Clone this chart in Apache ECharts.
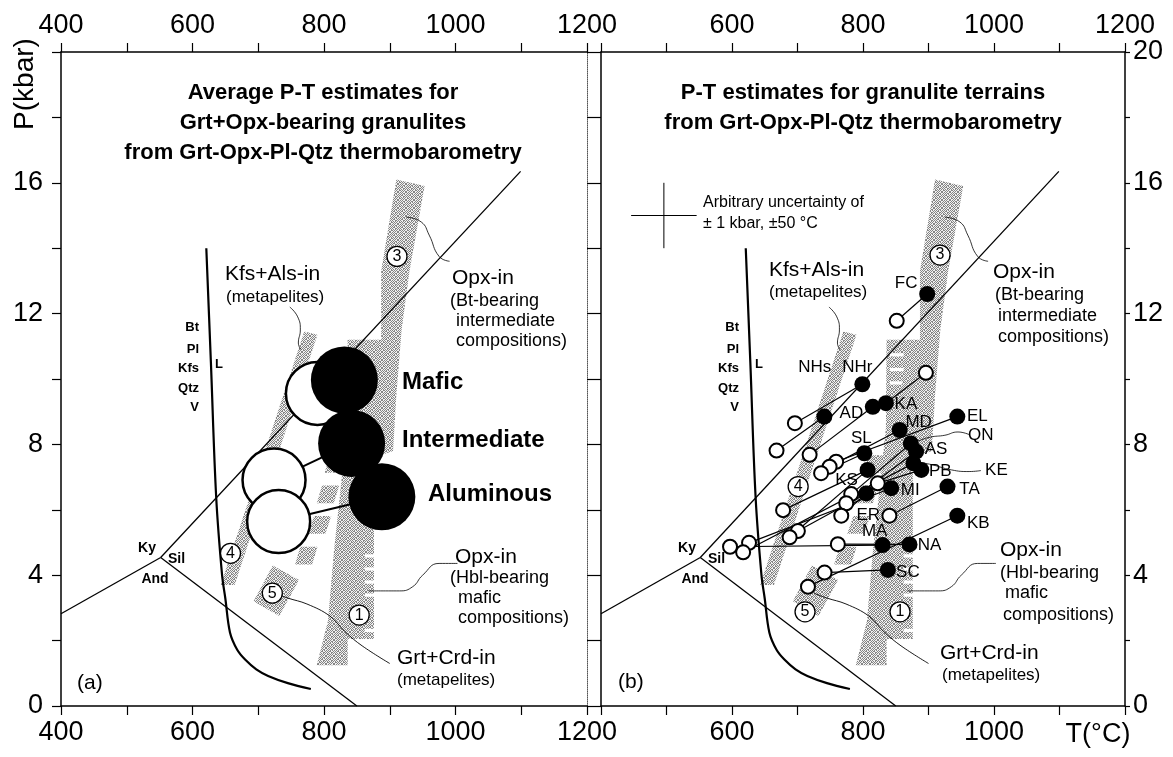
<!DOCTYPE html>
<html>
<head>
<meta charset="utf-8">
<script src="https://cdn.jsdelivr.net/npm/echarts@6/dist/echarts.min.js"></script>
<style>
  html, body { margin: 0; padding: 0; background: #fff; }
  #chart { width: 1173px; height: 757px; }
</style>
</head>
<body>
<div id="chart"></div>
<script>
// ---------------- axis ranges ----------------
const tempRange = [400, 1200];
const presRange = [0, 20];

// ---------------- phase boundaries (T in °C, P in kbar) ----------------
const kyaniteSillimanite = [[551.6, 4.54], [1099, 16.35]];
const kyaniteAndalusite = [[400, 2.82], [551.6, 4.54]];
const sillimaniteAndalusite = [[551.6, 4.54], [850, 0]];
const wetSolidus = [[621, 14.0], [628, 10.5], [636, 6.4], [645, 4.0], [650, 3.28], [657, 2.25],
                    [668, 1.72], [680, 1.42], [697, 1.12], [715, 0.92], [745, 0.7], [780, 0.52]];
const grtCrdIn = [[725, 3.45], [745, 3.3], [774, 3.12], [809, 2.75], [832, 2.27], [858, 1.84], [900, 1.3]];

// ---------------- stippled reaction bands ----------------
const bandOpxIn = [[910, 16.1], [953, 15.9], [930, 13.3], [918, 11.5], [910, 9.5], [905, 7.8], [876, 7.6],
                   [876, 2.05], [836, 2.05], [836, 1.25], [789, 1.25], [806, 2.6], [815, 4.7], [835, 8.5],
                   [836, 11.2], [887, 11.2], [887, 13.3]];
const bandKfsAls = [[770, 11.45], [790, 11.35], [664, 3.7], [643, 3.7]];
const bandGrtCrd = [[722, 4.3], [762, 3.85], [732, 2.75], [693, 3.2]];
const bandDashes = [
  [[809, 7.67], [835, 7.67], [827, 7.13], [801, 7.13]],
  [[797, 6.74], [823, 6.74], [815, 6.20], [789, 6.20]],
  [[785, 5.81], [811, 5.81], [802, 5.27], [776, 5.27]],
  [[764, 4.87], [790, 4.87], [782, 4.33], [756, 4.33]]
];
const bandGaps = [
  [[841, 10.79], [862, 10.79], [862, 10.69], [841, 10.69]],
  [[841, 10.34], [862, 10.34], [862, 10.24], [841, 10.24]],
  [[841, 9.93], [860, 9.93], [860, 9.83], [841, 9.83]],
  [[862, 4.64], [877, 4.64], [877, 4.54], [862, 4.54]],
  [[862, 4.24], [877, 4.24], [877, 4.14], [862, 4.14]],
  [[862, 3.84], [877, 3.84], [877, 3.74], [862, 3.74]],
  [[862, 3.44], [877, 3.44], [877, 3.34], [862, 3.34]],
  [[862, 2.36], [877, 2.36], [877, 2.26], [862, 2.26]]
];

// band numbers, one set per panel
const bandNumbers = ['3', '4', '5', '1'];
const bandNumberT = [[911, 657.8, 721.4, 853.5], [917.6, 701, 711.5, 856.5]];
const bandNumberP = [[13.75, 4.67, 3.45, 2.78], [13.79, 6.71, 2.88, 2.88]];

// label leaders
const leaderKfsAls = [[748, 12.2], [760, 11.9], [764, 11.5], [761, 11.1], [765, 10.9]];
const leaderOpxBt = [[991, 13.6], [975, 13.75], [960, 14.4], [948, 14.8], [925, 14.95]];
const leaderOpxHbl = [[1003, 4.36], [975, 4.36], [950, 4.0], [935, 3.65], [915, 3.52], [868, 3.52]];
const leaderQN = [[884, 8.1], [902, 8.22], [925, 8.28], [945, 8.38], [962, 8.3]];
const leaderKE = [[886, 7.45], [905, 7.38], [935, 7.22], [962, 7.17], [980, 7.2]];

// ---------------- (a) average estimates ----------------
const rockTypes = ['Mafic', 'Intermediate', 'Aluminous'];
const avgFilledT = [831, 842, 888];
const avgFilledP = [9.97, 8.03, 6.40];
const avgOpenT = [790, 724, 731];
const avgOpenP = [9.56, 6.91, 5.64];

// ---------------- (b) granulite terrains ----------------
const terrains = ['FC', 'NHs', 'NHr', 'AD', 'KA', 'MD', 'EL', 'SL', 'QN', 'AS',
                  'KE', 'PB', 'KS', 'MI', 'TA', 'ER', 'MA', 'NA', 'KB', 'SC'];
const terrainFilledT = [898, 815, 799, 741, 835, 856, 944, 802, 873, 881,
                        877, 889, 807, 843, 929, 805, 830, 871, 944, 838];
const terrainFilledP = [12.60, 9.15, 9.84, 8.85, 9.26, 8.44, 8.85, 7.73, 8.03, 7.78,
                        7.42, 7.22, 7.22, 6.66, 6.71, 6.50, 4.92, 4.94, 5.82, 4.16];
const terrainOpenT = [851.5, 896, 696, 668, 718.5, 759, 749, 736, 822.5, 782, 774.4,
                      766.8, 840.3, 678, 700.6, 688, 626, 617, 597, 761.6, 741.3, 716];
const terrainOpenP = [11.78, 10.19, 8.65, 7.81, 7.68, 7.47, 7.32, 7.12, 6.81, 6.48, 6.20,
                      5.82, 5.82, 5.99, 5.35, 5.16, 4.99, 4.70, 4.87, 4.95, 4.08, 3.65];
const terrainOpenOf = ['FC', 'KA', 'NHr', 'AD', 'NHs', 'EL', 'MD', 'SL', 'PB', 'QN', 'AS',
                       'ER', 'TA', 'KS', 'ER', 'KS', 'MI', 'KE', 'MA', 'NA', 'SC', 'KB'];

// uncertainty cross
const crossT = 496, crossP = 15.0, crossErrT = 50, crossErrP = 1;

// ---------------- styling ----------------
const FONT = '"Liberation Sans", Arial, Helvetica, sans-serif';
const tagOffset = {
  FC: [-21, -11], NHs: [-58, -39], NHr: [-5, -17], AD: [27, -3], KA: [20, 1],
  MD: [19, -8], EL: [20, 0], SL: [-3, -15], QN: [70, -8], AS: [20, -2],
  KE: [83, 7], PB: [19, 1], KS: [-21, 10], MI: [19, 2], TA: [22, 3],
  ER: [2, 22], MA: [-8, -14], NA: [20, 1], KB: [21, 8], SC: [20, 2]
};

// irregular dither tile for the stippled bands
const stippleCanvas = (() => {
  const mask = [
    '10100110',
    '01011001',
    '10101010',
    '01100101',
    '10011010',
    '01010101',
    '10101001',
    '01010110'
  ];
  const c = document.createElement('canvas');
  c.width = 8; c.height = 8;
  const g = c.getContext('2d');
  g.fillStyle = '#f0f0f0'; g.fillRect(0, 0, 8, 8);
  g.fillStyle = '#858585';
  mask.forEach((row, y) => [...row].forEach((ch, x) => { if (ch === '1') g.fillRect(x, y, 1, 1); }));
  return c;
})();
const stipple = { image: stippleCanvas, repeat: 'repeat' };

function polygonSeries(p, polys, fill, z) {
  return {
    type: 'custom', xAxisIndex: p * 2, yAxisIndex: p * 2, z, silent: true, animation: false,
    data: polys.map(poly => poly[0]),
    renderItem: (params, api) => ({
      type: 'polygon',
      shape: { points: polys[params.dataIndex].map(pt => api.coord(pt)) },
      style: { fill: fill, stroke: null }
    })
  };
}

function lineSeries(p, pts, width, smooth, z) {
  return {
    type: 'line', xAxisIndex: p * 2, yAxisIndex: p * 2, data: pts,
    showSymbol: false, symbol: 'none', smooth: smooth || false,
    lineStyle: { color: '#000', width: width, opacity: 1 }, z: z || 3, silent: true, animation: false
  };
}

function tieSeries(p, segs, width) {
  return {
    type: 'custom', xAxisIndex: p * 2, yAxisIndex: p * 2, z: 4, silent: true, animation: false,
    encode: { x: [0, 2], y: [1, 3] },
    data: segs,
    renderItem: (params, api) => {
      const a = api.coord([api.value(0), api.value(1)]);
      const b = api.coord([api.value(2), api.value(3)]);
      return { type: 'line', shape: { x1: a[0], y1: a[1], x2: b[0], y2: b[1] },
               style: { stroke: '#000', lineWidth: width } };
    }
  };
}

function bandNumberSeries(p) {
  return {
    type: 'scatter', xAxisIndex: p * 2, yAxisIndex: p * 2, z: 7, silent: true, animation: false,
    symbol: 'circle', symbolSize: 20,
    itemStyle: { color: '#fff', borderColor: '#000', borderWidth: 1.3, opacity: 1 },
    label: { show: true, position: 'inside', formatter: '{b}', color: '#000', fontSize: 16, fontFamily: FONT },
    data: bandNumbers.map((n, i) => ({ name: n, value: [bandNumberT[p][i], bandNumberP[p][i]] }))
  };
}

function backgroundSeries(p) {
  return [
    polygonSeries(p, [bandOpxIn, bandKfsAls, bandGrtCrd], stipple, 1),
    polygonSeries(p, bandDashes, stipple, 1),
    polygonSeries(p, bandGaps, '#fff', 2),
    lineSeries(p, kyaniteSillimanite, 1.3),
    lineSeries(p, kyaniteAndalusite, 1.3),
    lineSeries(p, sillimaniteAndalusite, 1.3),
    lineSeries(p, wetSolidus, 2.2, 0.35),
    lineSeries(p, grtCrdIn, 0.9, 0.4),
    lineSeries(p, leaderKfsAls, 0.8, 0.5),
    lineSeries(p, leaderOpxBt, 0.8, 0.5),
    lineSeries(p, leaderOpxHbl, 0.8, 0.5),
    bandNumberSeries(p)
  ];
}

// panel (a)
const seriesA = [
  ...backgroundSeries(0),
  tieSeries(0, rockTypes.map((r, i) => [avgOpenT[i], avgOpenP[i], avgFilledT[i], avgFilledP[i]]), 2),
  {
    type: 'scatter', xAxisIndex: 0, yAxisIndex: 0, z: 5, silent: true, animation: false,
    symbolSize: 63, itemStyle: { color: '#fff', borderColor: '#000', borderWidth: 2.5, opacity: 1 },
    data: rockTypes.map((r, i) => ({ name: r, value: [avgOpenT[i], avgOpenP[i]] }))
  },
  {
    type: 'scatter', xAxisIndex: 0, yAxisIndex: 0, z: 6, silent: true, animation: false,
    symbolSize: 67, itemStyle: { color: '#000', opacity: 1 },
    data: rockTypes.map((r, i) => ({ name: r, value: [avgFilledT[i], avgFilledP[i]] }))
  }
];

// panel (b)
const filledIndex = Object.fromEntries(terrains.map((t, i) => [t, i]));
const seriesB = [
  ...backgroundSeries(1),
  lineSeries(1, leaderQN, 0.8, 0.5),
  lineSeries(1, leaderKE, 0.8, 0.5),
  lineSeries(1, [[crossT - crossErrT, crossP], [crossT + crossErrT, crossP]], 1),
  lineSeries(1, [[crossT, crossP - crossErrP], [crossT, crossP + crossErrP]], 1),
  tieSeries(1, terrainOpenT.map((t, i) => {
    const k = filledIndex[terrainOpenOf[i]];
    return [t, terrainOpenP[i], terrainFilledT[k], terrainFilledP[k]];
  }), 1.2),
  {
    type: 'scatter', xAxisIndex: 2, yAxisIndex: 2, z: 5, silent: true, animation: false,
    symbolSize: 14, itemStyle: { color: '#fff', borderColor: '#000', borderWidth: 2, opacity: 1 },
    data: terrainOpenT.map((t, i) => ({ name: terrainOpenOf[i], value: [t, terrainOpenP[i]] }))
  },
  {
    type: 'scatter', xAxisIndex: 2, yAxisIndex: 2, z: 6, silent: true, animation: false,
    symbolSize: 16, itemStyle: { color: '#000', opacity: 1 },
    data: terrains.map((t, i) => ({
      name: t, value: [terrainFilledT[i], terrainFilledP[i]],
      label: { show: true, position: 'inside', offset: tagOffset[t] }
    })),
    label: { show: true, formatter: '{b}', color: '#000', fontSize: 17, fontFamily: FONT }
  }
];

// ---------------- axes ----------------
function xAxis(grid, pos, showLabel) {
  return {
    type: 'value', gridIndex: grid, position: pos, min: tempRange[0], max: tempRange[1], interval: 100,
    axisLine: { onZero: false, lineStyle: { color: '#000', width: 1.5 } },
    axisTick: { show: true, inside: false, length: 9, lineStyle: { color: '#000', width: 1.2 } },
    axisLabel: { show: true, showMinLabel: true, showMaxLabel: true, formatter: v => showLabel(v) ? String(v) : '',
                 fontSize: 27, color: '#000', fontFamily: FONT, margin: 13 },
    splitLine: { show: false }
  };
}
function yAxis(grid, pos, showLabel, lineStyle, tickLen, margin) {
  return {
    type: 'value', gridIndex: grid, position: pos, min: presRange[0], max: presRange[1], interval: 2,
    axisLine: { show: true, onZero: false, lineStyle: lineStyle },
    axisTick: { show: true, inside: false, length: tickLen, lineStyle: { color: '#000', width: 1.2 } },
    axisLabel: { show: true, showMinLabel: true, showMaxLabel: true, formatter: v => showLabel(v) ? String(v) : '',
                 fontSize: 27, color: '#000', fontFamily: FONT, margin: margin },
    splitLine: { show: false }
  };
}

const solid = { color: '#000', width: 1.5 };
const option = {
  backgroundColor: '#fff',
  animation: false,
  grid: [
    { left: 61, right: 586, top: 52, bottom: 51 },
    { left: 601, right: 48, top: 52, bottom: 51 }
  ],
  xAxis: [
    xAxis(0, 'bottom', v => v % 200 === 0),
    xAxis(0, 'top', v => v % 200 === 0),
    xAxis(1, 'bottom', v => v % 200 === 0 && v > 400 && v < 1200),
    xAxis(1, 'top', v => v % 200 === 0 && v > 400)
  ],
  yAxis: [
    yAxis(0, 'left', v => v % 4 === 0 && v < 20, solid, 9, 18),
    yAxis(0, 'right', v => false, { color: '#555', width: 1, type: [1, 1] }, 8, 8),
    yAxis(1, 'left', v => false, solid, 6, 8),
    yAxis(1, 'right', v => v % 4 === 0, solid, 5, 8)
  ],
  series: [...seriesA, ...seriesB]
};

// ---------------- annotations ----------------
function txt(x, y, text, size, extra) {
  extra = extra || {};
  return {
    type: 'text', x: x, y: y, z: 100, silent: true, rotation: extra.rotation || 0,
    style: {
      text: text, fill: '#000',
      font: (extra.bold ? 'bold ' : '') + size + 'px ' + FONT,
      textAlign: extra.align || 'left', textVerticalAlign: 'middle', verticalAlign: 'middle'
    }
  };
}

const graphics = [
  // axis titles
  txt(25, 84, 'P(kbar)', 28, { align: 'center', rotation: Math.PI / 2 }),
  txt(1098, 735, 'T(\u00B0C)', 27, { align: 'center' }),
  // panel (a)
  txt(323, 93, 'Average P-T estimates for', 22, { bold: true, align: 'center' }),
  txt(323, 123, 'Grt+Opx-bearing granulites', 22, { bold: true, align: 'center' }),
  txt(323, 153, 'from Grt-Opx-Pl-Qtz thermobarometry', 22, { bold: true, align: 'center' }),
  txt(225, 274, 'Kfs+Als-in', 21),
  txt(226, 297, '(metapelites)', 17),
  txt(452, 278, 'Opx-in', 21),
  txt(450, 301, '(Bt-bearing', 18),
  txt(456, 321, 'intermediate', 18),
  txt(456, 341, 'compositions)', 18),
  txt(402, 382, 'Mafic', 24, { bold: true }),
  txt(402, 440, 'Intermediate', 24, { bold: true }),
  txt(428, 494, 'Aluminous', 24, { bold: true }),
  txt(455, 557, 'Opx-in', 21),
  txt(450, 578, '(Hbl-bearing', 18),
  txt(458, 598, 'mafic', 18),
  txt(458, 618, 'compositions)', 18),
  txt(397, 658, 'Grt+Crd-in', 21),
  txt(397, 680, '(metapelites)', 17),
  txt(77, 683, '(a)', 21),
  // panel (b)
  txt(863, 93, 'P-T estimates for granulite terrains', 22, { bold: true, align: 'center' }),
  txt(863, 123, 'from Grt-Opx-Pl-Qtz thermobarometry', 22, { bold: true, align: 'center' }),
  txt(703, 203, 'Arbitrary uncertainty of', 16),
  txt(703, 224, '\u00B1 1 kbar, \u00B150 \u00B0C', 16),
  txt(769, 270, 'Kfs+Als-in', 21),
  txt(769, 292, '(metapelites)', 17),
  txt(993, 272, 'Opx-in', 21),
  txt(995, 295, '(Bt-bearing', 18),
  txt(998, 316, 'intermediate', 18),
  txt(998, 337, 'compositions)', 18),
  txt(1000, 550, 'Opx-in', 21),
  txt(1000, 573, '(Hbl-bearing', 18),
  txt(1005, 593, 'mafic', 18),
  txt(1003, 615, 'compositions)', 18),
  txt(940, 653, 'Grt+Crd-in', 21),
  txt(942, 675, '(metapelites)', 17),
  txt(618, 682, '(b)', 21)
];
// mineral assemblage and Al2SiO5 field labels, same layout in both panels
[0, 540].forEach(dx => {
  ['Bt', 'Pl', 'Kfs', 'Qtz', 'V'].forEach((m, i) => {
    graphics.push(txt(199 + dx, [327, 349, 368, 388, 407][i], m, 13, { bold: true, align: 'right' }));
  });
  graphics.push(txt(219 + dx, 364, 'L', 13, { bold: true, align: 'center' }));
  graphics.push(txt(147 + dx, 548, 'Ky', 14, { bold: true, align: 'center' }));
  graphics.push(txt(176.5 + dx, 559, 'Sil', 14, { bold: true, align: 'center' }));
  graphics.push(txt(155 + dx, 579, 'And', 14, { bold: true, align: 'center' }));
});
option.graphic = { elements: graphics };

const chart = echarts.init(document.getElementById('chart'), null, { renderer: 'canvas' });
chart.setOption(option);
</script>
</body>
</html>
